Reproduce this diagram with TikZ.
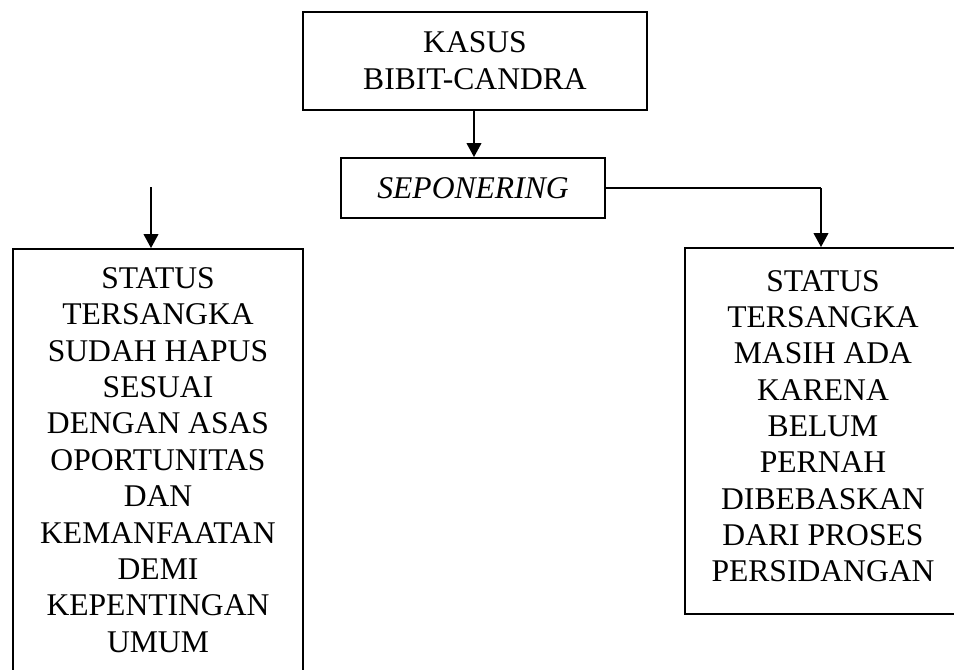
\documentclass[tikz,border=0pt]{standalone}
\usepackage{fontspec}
\setmainfont{Liberation Serif}
\usetikzlibrary{arrows.meta}
\begin{document}
\begin{tikzpicture}[x=0.75pt,y=-0.75pt,
  box/.style={draw, line width=1.4pt, inner sep=0pt, align=center},
  conn/.style={line width=1.4pt, -{Triangle[width=11pt,length=10.5pt]}},
  plain/.style={line width=1.4pt}]
\useasboundingbox (0,0) rectangle (954,669);
\node[box, minimum width=258pt, minimum height=73.5pt,
  font=\fontsize{23.7pt}{27.75pt}\selectfont] (top) at (475,61) {KASUS\\BIBIT-CANDRA};
\node[box, minimum width=198pt, minimum height=45pt,
  font=\fontsize{23.7pt}{27.75pt}\selectfont\itshape] (sep) at (473,188) {SEPONERING};
\node[box, minimum width=217.5pt, minimum height=316.5pt,
  font=\fontsize{23.7pt}{27.3pt}\selectfont] (left) at (158,460)
  {STATUS\\TERSANGKA\\SUDAH HAPUS\\SESUAI\\DENGAN ASAS\\OPORTUNITAS\\DAN\\KEMANFAATAN\\DEMI\\KEPENTINGAN\\UMUM};
\node[box, minimum width=207pt, minimum height=274.5pt,
  font=\fontsize{23.7pt}{27.2pt}\selectfont] (right) at (823,431)
  {STATUS\\TERSANGKA\\MASIH ADA\\KARENA\\BELUM\\PERNAH\\DIBEBASKAN\\DARI PROSES\\PERSIDANGAN\rule[-7.5pt]{0pt}{0pt}};
\coordinate (lstart) at (151,187);
\coordinate (rdrop) at (821,188);
\draw[conn] (top.south -| 474,0) -- (sep.north -| 474,0);
\draw[conn] (lstart) -- (lstart |- left.north);
\draw[plain] (sep.east) -- (rdrop);
\draw[conn] (rdrop) -- (rdrop |- right.north);
\end{tikzpicture}
\end{document}
